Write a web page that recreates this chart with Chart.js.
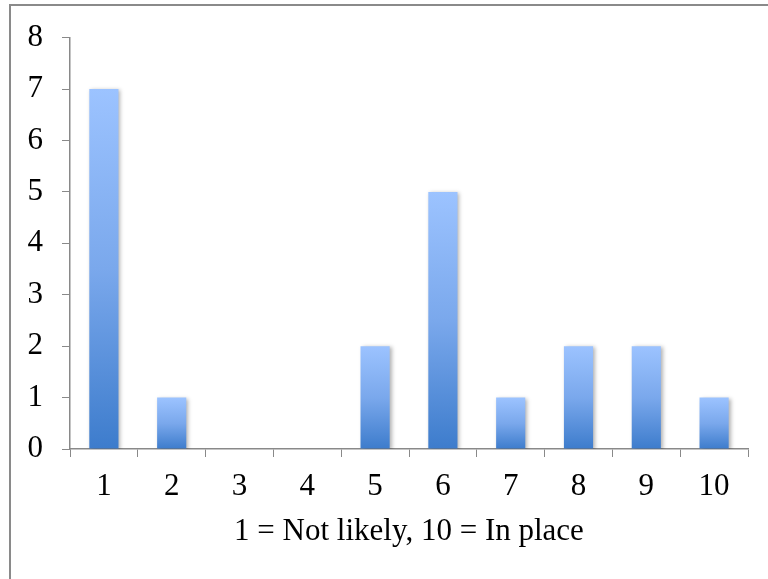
<!DOCTYPE html>
<html>
<head>
<meta charset="utf-8">
<script src="https://cdn.jsdelivr.net/npm/chart.js@4/dist/chart.umd.min.js"></script>
<style>
    body { margin: 0; background: #fff; }
    #wrap { position: relative; width: 768px; height: 579px; overflow: hidden; }
    #frame { position: absolute; left: 9px; top: 4px; width: 800px; height: 620px; border: 2px solid #8a8a8a; box-sizing: border-box; }
    #chart { position: absolute; left: 0; top: 0; }
</style>
</head>
<body>
<div id="wrap">
    <div id="frame"></div>
    <canvas id="chart" width="768" height="579"></canvas>
</div>
<script>
const categories = ['1', '2', '3', '4', '5', '6', '7', '8', '9', '10'];
const counts = [7, 1, 0, 0, 2, 5, 1, 2, 2, 1];
const yTicks = [0, 1, 2, 3, 4, 5, 6, 7, 8];
const xTitle = '1 = Not likely, 10 = In place';

const axisColor = '#898989';
const font = { family: '"Liberation Serif", "Times New Roman", serif', size: 31 };

// gradient per bar: light at top, darker at base
function barGradient(context) {
    const chart = context.chart;
    if (!chart.chartArea || context.type !== 'data') return '#7aa8ea';
    const y = chart.scales.y;
    const top = y.getPixelForValue(context.raw);
    const base = y.getPixelForValue(0);
    if (base - top < 1) return '#3f7fcf';
    const g = chart.ctx.createLinearGradient(0, top, 0, base);
    g.addColorStop(0, '#9cc3ff');
    g.addColorStop(0.5, '#7aa8ec');
    g.addColorStop(1, '#3d7ccc');
    return g;
}

const barShadow = {
    id: 'barShadow',
    beforeDatasetsDraw(chart) {
        const ctx = chart.ctx;
        ctx.save();
        ctx.shadowColor = 'rgba(0, 0, 0, 0.3)';
        ctx.shadowBlur = 4;
        ctx.shadowOffsetX = 2;
        ctx.shadowOffsetY = 1;
    },
    afterDatasetsDraw(chart) {
        chart.ctx.restore();
    }
};

new Chart(document.getElementById('chart'), {
    type: 'bar',
    data: {
        labels: categories,
        datasets: [{
            data: counts,
            backgroundColor: barGradient,
            borderWidth: 0,
            barPercentage: 0.43,
            categoryPercentage: 1
        }]
    },
    plugins: [barShadow],
    options: {
        responsive: false,
        animation: false,
        devicePixelRatio: 1,
        layout: { padding: { top: 36, right: 20, left: 0, bottom: 0 } },
        plugins: {
            legend: { display: false },
            tooltip: { enabled: false }
        },
        scales: {
            x: {
                grid: { drawOnChartArea: false, drawTicks: true, tickLength: 8, color: axisColor, offset: true },
                border: { display: true, color: axisColor, width: 1.5 },
                ticks: { color: '#000', font: font, padding: 11, maxRotation: 0 },
                title: { display: true, text: xTitle, color: '#000', font: font, padding: { top: 4, bottom: 29 } },
                afterFit(scale) { scale.height = 130; }
            },
            y: {
                min: 0,
                max: 8,
                afterBuildTicks(scale) { scale.ticks = yTicks.map(v => ({ value: v })); },
                grid: { drawOnChartArea: false, drawTicks: true, tickLength: 8, color: axisColor },
                border: { display: true, color: axisColor, width: 1.5 },
                ticks: { color: '#000', font: font, padding: 19 },
                afterFit(scale) { scale.width = 70; }
            }
        }
    }
});
</script>
</body>
</html>
